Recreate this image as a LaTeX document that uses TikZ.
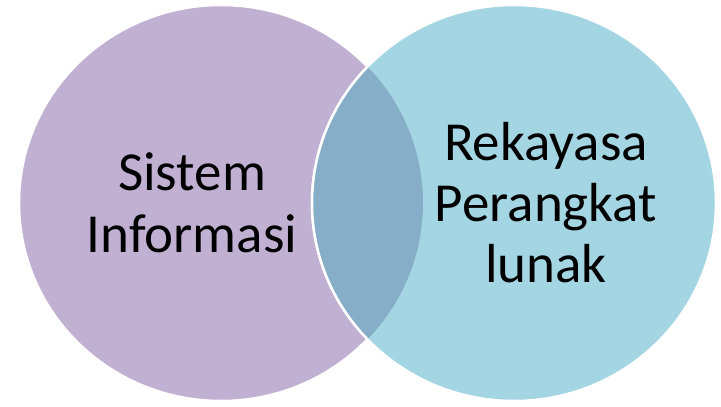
\documentclass[tikz,border=0pt]{standalone}
\usepackage{fontspec}
\setmainfont{Carlito}
\definecolor{purp}{RGB}{192,177,210}
\definecolor{lblue}{RGB}{164,213,226}
\definecolor{ovl}{RGB}{134,174,200}
\tikzset{
  lbl/.style={anchor=base, inner sep=0pt, font=\fontsize{55}{61}\selectfont, text=black},
  circ/.style={draw=white, line width=2.5pt}
}
\begin{document}
\begin{tikzpicture}[x=1pt,y=-1pt]
\useasboundingbox (0,0) rectangle (721,407);
\fill[white] (0,0) rectangle (721,407);
\coordinate (cl) at (221,203);
\coordinate (cr) at (514,203);
\path[circ, fill=purp] (cl) ellipse [x radius=202, y radius=198];
\path[circ, fill=lblue] (cr) ellipse [x radius=202, y radius=198];
\begin{scope}
  \clip (cl) ellipse [x radius=202, y radius=198];
  \fill[ovl] (cr) ellipse [x radius=202, y radius=198];
  \draw[white, line width=2.5pt] (cr) ellipse [x radius=202, y radius=198];
\end{scope}
\node[lbl] (s1) at (192,190) {Sistem};
\node[lbl] (s2) at (192,252) {Informasi};
\node[lbl] (r1) at (546,160) {Rekayasa};
\node[lbl] (r2) at (546,221) {Perangkat};
\node[lbl] (r3) at (546,282) {lunak};
\end{tikzpicture}
\end{document}
